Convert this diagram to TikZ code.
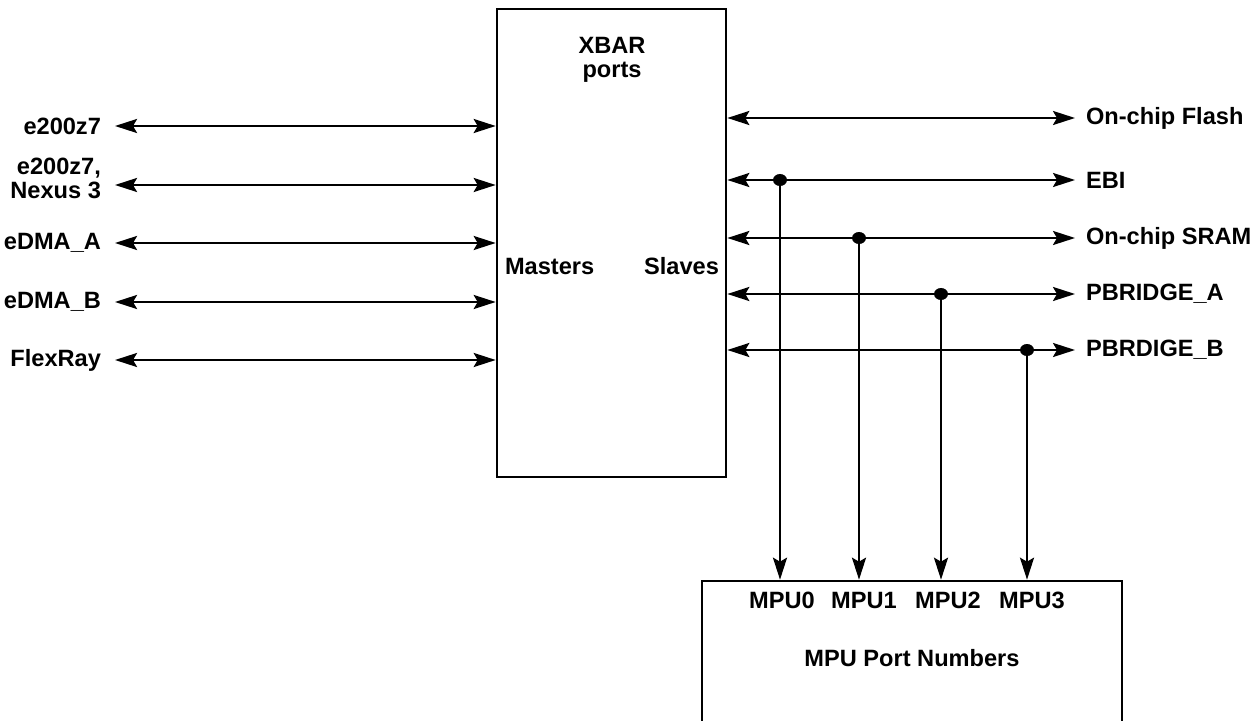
\documentclass[tikz,border=0pt]{standalone}
\usepackage{fontspec}
\setmainfont{Liberation Sans}
\usetikzlibrary{arrows.meta,positioning,shapes.geometric}

\begin{document}
\begin{tikzpicture}[x=0.5pt,y=-0.5pt,>={Stealth[length=11pt,width=7pt,inset=2pt]},
  font=\fontsize{11.8}{13}\selectfont\bfseries,
  blk/.style={draw,line width=1.3pt,inner sep=0pt},
  bus/.style={<->,line width=1.25pt},
  tap/.style={->,line width=1.25pt},
  junc/.style={ellipse,fill,inner sep=0pt,minimum width=7pt,minimum height=6pt}]
\clip (0,0) rectangle (1256,721);
% crossbar and mpu blocks
\node[blk,minimum width=114.5pt,minimum height=234pt] (xbar) at (611.5,243) {};
\node[blk,minimum width=210pt,minimum height=100pt] (mpu) at (912,681) {};
\node[align=center] (xbarlbl) at (612,60) {XBAR\\[-1pt]ports};
\node[anchor=west] (masters) at (498,266) {Masters};
\node[anchor=east] (slaves) at (726,266) {Slaves};
% masters
\coordinate (m0) at (115,126);
\coordinate (m1) at (115,185);
\coordinate (m2) at (115,243);
\coordinate (m3) at (115,302);
\coordinate (m4) at (115,360);
\node[anchor=east] (core0) at (108,126) {e200z7};
\node[anchor=east,align=right] (core1) at (108,178) {e200z7,\\[-1pt]Nexus 3};
\node[anchor=east] (dmaa) at (108,243) {eDMA\_A};
\node[anchor=east] (dmab) at (108,302) {eDMA\_B};
\node[anchor=east] (flexray) at (108,360) {FlexRay};
\draw[bus] (m0) -- (xbar.west |- m0);
\draw[bus] (m1) -- (xbar.west |- m1);
\draw[bus] (m2) -- (xbar.west |- m2);
\draw[bus] (m3) -- (xbar.west |- m3);
\draw[bus] (m4) -- (xbar.west |- m4);
% slaves
\coordinate (s0) at (1075,118);
\coordinate (s1) at (1075,180);
\coordinate (s2) at (1075,238);
\coordinate (s3) at (1075,294);
\coordinate (s4) at (1075,350);
\node[anchor=west] (flash) at (1079,118) {On-chip Flash};
\node[anchor=west] (ebi) at (1079,180) {EBI};
\node[anchor=west] (sram) at (1079,238) {On-chip SRAM};
\node[anchor=west] (pbra) at (1079,294) {PBRIDGE\_A};
\node[anchor=west] (pbrb) at (1079,350) {PBRDIGE\_B};
\draw[bus] (xbar.east |- s0) -- (s0);
\draw[bus] (xbar.east |- s1) -- (s1);
\draw[bus] (xbar.east |- s2) -- (s2);
\draw[bus] (xbar.east |- s3) -- (s3);
\draw[bus] (xbar.east |- s4) -- (s4);
% taps to the mpu ports
\node[junc] (t0) at (780,180) {};
\node[junc] (t1) at (859,238) {};
\node[junc] (t2) at (941,294) {};
\node[junc] (t3) at (1027,350) {};
\draw[tap] (t0) -- (mpu.north -| t0);
\draw[tap] (t1) -- (mpu.north -| t1);
\draw[tap] (t2) -- (mpu.north -| t2);
\draw[tap] (t3) -- (mpu.north -| t3);
\node (p0) at (782,600) {MPU0};
\node (p1) at (864,600) {MPU1};
\node (p2) at (948,600) {MPU2};
\node (p3) at (1032,600) {MPU3};
\node (mpulbl) at (912,658) {MPU Port Numbers};
\end{tikzpicture}
\end{document}
